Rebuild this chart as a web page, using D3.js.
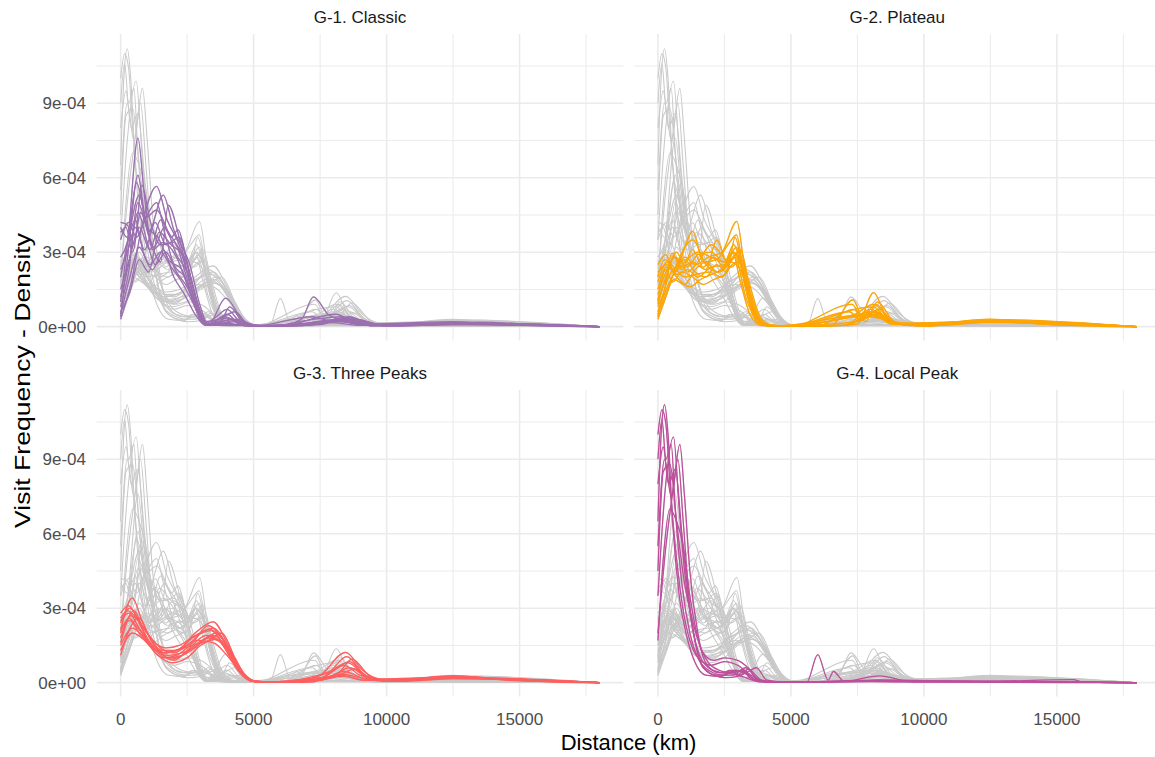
<!DOCTYPE html>
<html>
<head>
<meta charset="utf-8">
<script src="https://cdn.jsdelivr.net/npm/d3@7"></script>
<style>
  html, body { margin: 0; padding: 0; background: #ffffff; }
  svg { display: block; font-family: "Liberation Sans", Arial, sans-serif; }
</style>
</head>
<body>
<svg id="chart" width="1155" height="757"></svg>
<script>
// ---- data: density curves, x in km, y in units of 1e-04 ----
const panelTitles = ["G-1. Classic", "G-2. Plateau", "G-3. Three Peaks", "G-4. Local Peak"];
const groupColors = ["#9b6fb0", "#ffa500", "#ff5f5f", "#bd4f9b"];

const xTicks = [0, 5000, 10000, 15000];
const xTickLabels = ["0", "5000", "10000", "15000"];
const xMinorTicks = [2500, 7500, 12500, 17500];
const yTicks = [0, 3, 6, 9];
const yTickLabels = ["0e+00", "3e-04", "6e-04", "9e-04"];
const yMinorTicks = [1.5, 4.5, 7.5, 10.5];

const g1Classic = [
  [[0,1.0],[300,3.8],[650,7.6],[900,5.2],[1200,3.1],[1600,3.4],[2100,2.8],[2600,1.4],[3000,0.3],[3300,0.05],[4000,0.35],[4700,0.05],[6000,0.02],[7500,0.08],[8400,0.3],[9500,0.05],[12500,0.12],[15000,0.05],[18000,0]],
  [[0,0.4],[300,3.2],[650,6.1],[950,4.4],[1350,4.7],[1800,3.8],[2300,2.9],[2750,1.2],[3150,0.1],[3600,0.4],[4000,0.7],[4600,0.1],[5800,0.02],[6800,0.3],[7250,1.2],[7800,0.5],[8500,0.2],[9500,0.05],[13000,0.15],[18000,0]],
  [[0,4.2],[250,4.1],[500,3.3],[800,5.7],[1100,4.3],[1500,3.3],[2000,3.4],[2450,2.1],[2900,0.5],[3250,0.05],[4200,0.3],[5000,0.02],[7000,0.05],[8500,0.35],[10000,0.05],[12800,0.1],[18000,0]],
  [[0,0.3],[400,1.8],[850,4.3],[1350,5.65],[1750,4.3],[2200,3.3],[2650,1.6],[3050,0.2],[3500,0.05],[4300,0.25],[5200,0.02],[7800,0.2],[8600,0.4],[9500,0.05],[12000,0.15],[14500,0.1],[18000,0]],
  [[0,2.0],[300,3.6],[700,5.3],[1050,3.8],[1600,5.3],[2000,3.9],[2600,2.5],[3000,0.8],[3300,0.08],[3950,1.15],[4600,0.25],[5300,0.02],[7500,0.15],[8400,0.3],[9500,0.03],[13000,0.12],[18000,0]],
  [[0,3.8],[200,4.0],[450,3.0],[750,4.6],[1100,3.5],[1500,2.6],[1790,4.9],[2200,3.6],[2600,1.8],[3000,0.4],[3300,0.05],[4000,0.5],[4500,0.1],[6000,0.02],[8100,0.5],[8900,0.1],[12500,0.15],[18000,0]],
  [[0,1.5],[350,2.8],[700,4.0],[1100,3.1],[1500,4.3],[1900,3.6],[2160,3.9],[2500,2.6],[2900,0.9],[3250,0.1],[3800,0.2],[4400,0.3],[5000,0.05],[7000,0.1],[8700,0.25],[10000,0.03],[13500,0.18],[16000,0.05],[18000,0]],
  [[0,0.8],[300,2.2],[650,5.0],[1000,4.0],[1400,3.6],[1800,2.7],[2300,2.3],[2700,1.1],[3100,0.15],[3700,0.1],[4100,0.8],[4600,0.2],[5500,0.02],[7300,0.3],[8300,0.4],[9200,0.05],[12000,0.1],[18000,0]],
  [[0,2.8],[250,3.4],[600,5.8],[900,4.5],[1250,3.2],[1650,4.0],[2100,2.9],[2600,2.0],[3000,0.6],[3300,0.05],[4500,0.05],[6000,0.02],[8000,0.25],[9000,0.1],[12500,0.2],[14000,0.1],[18000,0]],
  [[0,0.6],[350,1.4],[700,2.7],[1050,2.2],[1450,3.8],[1900,3.3],[2400,2.8],[2800,1.3],[3150,0.2],[3700,0.3],[4300,0.6],[4800,0.1],[6000,0.02],[8300,0.3],[9300,0.05],[12000,0.12],[18000,0]],
  [[0,3.5],[300,4.2],[600,3.6],[950,4.4],[1350,5.0],[1650,3.8],[2000,2.5],[2400,2.0],[2800,0.9],[3150,0.08],[3800,0.15],[5000,0.02],[7200,0.4],[8000,0.2],[8800,0.3],[10000,0.03],[13000,0.1],[18000,0]],
  [[0,1.2],[300,2.5],[650,4.6],[1000,3.4],[1300,2.5],[1700,3.0],[2100,2.2],[2500,1.6],[2900,0.7],[3200,0.05],[3900,0.4],[4600,0.05],[6500,0.02],[8200,0.2],[9500,0.05],[12500,0.12],[18000,0]],
  [[0,2.3],[250,3.0],[550,4.0],[900,3.1],[1300,4.2],[1700,3.3],[2200,3.6],[2600,2.1],[3000,0.5],[3300,0.05],[4000,0.1],[5000,0.02],[7400,0.15],[8500,0.35],[9400,0.05],[12000,0.08],[18000,0]],
  [[0,0.5],[350,2.0],[700,3.2],[1100,2.5],[1500,3.0],[1900,2.4],[2300,1.8],[2700,1.0],[3100,0.2],[3600,0.05],[4300,0.2],[5000,0.03],[8000,0.15],[9000,0.05],[13000,0.15],[18000,0]],
  [[0,4.0],[250,3.6],[550,4.3],[850,3.0],[1200,2.3],[1600,3.1],[2000,2.0],[2400,1.3],[2800,0.5],[3200,0.05],[4000,0.1],[5000,0.02],[8400,0.2],[9500,0.03],[14000,0.1],[18000,0]]
];

const g2Plateau = [
  [[0,1.0],[300,2.4],[600,2.3],[1000,2.8],[1400,2.5],[1900,2.8],[2400,3.0],[2967,4.24],[3300,2.0],[3700,0.5],[4100,0.05],[5000,0.02],[6500,0.03],[7330,1.08],[7700,0.4],[8100,0.6],[8700,0.15],[10000,0.05],[12500,0.25],[14500,0.1],[18000,0]],
  [[0,0.4],[400,2.0],[800,2.6],[1314,3.84],[1700,2.6],[2200,2.7],[2700,3.4],[2950,3.7],[3300,1.6],[3750,0.3],[4200,0.03],[6000,0.02],[7500,0.1],[8110,1.37],[8600,0.4],[9400,0.05],[12500,0.2],[15000,0.08],[18000,0]],
  [[0,2.5],[300,2.9],[600,2.2],[1000,2.6],[1500,3.0],[2000,2.8],[2500,2.6],[2850,3.3],[3200,2.1],[3600,0.6],[4000,0.08],[5000,0.02],[7200,0.6],[7600,0.3],[8200,0.9],[8800,0.2],[10000,0.03],[12800,0.22],[18000,0]],
  [[0,0.8],[250,1.5],[526,2.96],[900,2.4],[1300,2.6],[1800,2.3],[2215,3.5],[2600,2.6],[2900,2.8],[3300,1.2],[3800,0.15],[4300,0.02],[7000,0.05],[8000,0.7],[8700,0.25],[9500,0.05],[12500,0.18],[18000,0]],
  [[0,1.8],[350,2.6],[700,2.1],[1100,2.3],[1500,2.0],[2000,2.4],[2500,2.5],[2800,3.0],[3200,2.4],[3600,0.8],[4050,0.1],[4800,0.02],[7400,0.5],[8100,0.9],[8900,0.15],[10200,0.04],[12000,0.2],[14000,0.15],[18000,0]],
  [[0,0.3],[300,1.2],[700,2.5],[1314,3.5],[1800,2.5],[2300,2.2],[2800,2.7],[3100,3.1],[3400,1.9],[3900,0.3],[4400,0.02],[7000,0.05],[8200,0.6],[9000,0.1],[13000,0.25],[18000,0]],
  [[0,1.3],[300,2.2],[650,2.8],[1100,2.4],[1500,2.9],[2000,3.0],[2500,2.6],[2800,3.0],[3100,1.8],[3500,0.4],[3900,0.05],[5000,0.02],[7300,0.9],[7700,0.3],[8300,0.7],[9000,0.1],[12500,0.22],[18000,0]],
  [[0,2.0],[250,2.7],[600,2.4],[1000,2.0],[1400,2.1],[1900,2.2],[2400,2.0],[2800,2.5],[3150,2.7],[3500,1.3],[3900,0.2],[4400,0.02],[8000,0.5],[8600,0.3],[9500,0.05],[12000,0.18],[18000,0]],
  [[0,0.6],[350,1.6],[700,2.3],[1000,2.7],[1400,2.2],[1800,2.0],[2200,2.5],[2600,2.2],[2900,3.6],[3250,1.9],[3700,0.4],[4100,0.04],[6000,0.02],[7350,0.7],[7800,0.2],[8250,1.0],[8900,0.2],[10000,0.03],[13000,0.2],[18000,0]],
  [[0,1.5],[300,2.3],[550,1.8],[900,2.2],[1300,2.0],[1700,1.7],[2100,1.9],[2500,2.1],[2900,2.9],[3250,2.0],[3650,0.5],[4100,0.05],[5000,0.02],[8100,0.8],[8700,0.2],[9600,0.04],[12500,0.3],[14500,0.1],[18000,0]],
  [[0,0.9],[300,2.0],[700,3.0],[1100,2.2],[1500,2.6],[2000,3.3],[2400,2.9],[2750,2.4],[3050,2.6],[3400,1.1],[3800,0.1],[4500,0.02],[7500,0.2],[8200,0.5],[8900,0.1],[12000,0.2],[18000,0]],
  [[0,2.2],[300,2.5],[700,2.0],[1200,1.6],[1600,1.9],[2000,2.1],[2400,2.3],[2750,2.6],[3100,2.3],[3500,0.9],[3900,0.15],[4400,0.02],[7000,0.05],[8000,0.4],[8800,0.2],[10000,0.03],[12800,0.28],[18000,0]],
  [[0,0.5],[300,1.3],[600,1.9],[1000,1.7],[1400,2.3],[1800,2.6],[2200,2.2],[2600,2.6],[2950,3.2],[3300,1.5],[3750,0.2],[4200,0.02],[7300,0.4],[8000,0.6],[8800,0.1],[13000,0.2],[18000,0]],
  [[0,1.1],[300,1.9],[600,2.8],[900,2.3],[1300,3.1],[1700,2.4],[2100,2.8],[2500,2.4],[2850,3.0],[3200,2.2],[3600,0.7],[4000,0.08],[5000,0.02],[8050,0.45],[8800,0.15],[12500,0.2],[18000,0]]
];

const g3ThreePeaks = [
  [[0,2.1],[440,3.42],[800,2.5],[1200,1.6],[1700,1.2],[2200,1.35],[2800,2.0],[3480,2.45],[4000,1.6],[4500,0.5],[5000,0.08],[5500,0.02],[6500,0.03],[7500,0.3],[8455,1.22],[9100,0.5],[9800,0.1],[11000,0.15],[12500,0.28],[14000,0.15],[16000,0.05],[18000,0]],
  [[0,2.8],[300,3.1],[700,2.4],[1100,1.5],[1600,1.0],[2100,1.1],[2700,1.6],[3300,2.3],[3800,1.8],[4400,0.6],[4950,0.05],[6000,0.02],[7800,0.4],[8500,1.05],[9200,0.3],[10000,0.1],[12500,0.25],[14500,0.12],[18000,0]],
  [[0,1.1],[400,2.3],[700,2.6],[1100,1.8],[1600,1.1],[2000,0.9],[2600,1.4],[3200,1.9],[3700,1.7],[4300,0.7],[4900,0.1],[5600,0.02],[8000,0.5],[8600,0.85],[9300,0.2],[10200,0.08],[12400,0.2],[18000,0]],
  [[0,2.4],[350,3.0],[750,2.4],[1200,1.7],[1700,1.4],[2200,1.5],[2800,1.9],[3500,2.2],[4000,1.5],[4600,0.3],[5100,0.03],[6000,0.02],[7600,0.2],[8400,0.7],[9000,0.3],[10000,0.08],[12600,0.22],[15000,0.08],[18000,0]],
  [[0,1.6],[500,2.9],[900,2.0],[1400,1.2],[1900,0.95],[2500,1.2],[3100,1.7],[3600,2.0],[4100,1.3],[4700,0.3],[5200,0.03],[7000,0.02],[8200,0.4],[8700,0.95],[9400,0.25],[10400,0.06],[12800,0.18],[18000,0]],
  [[0,2.0],[300,2.6],[650,2.2],[1100,1.6],[1600,1.3],[2100,1.3],[2700,1.8],[3400,2.1],[3900,1.5],[4500,0.4],[5000,0.05],[6500,0.02],[8000,0.3],[8600,0.6],[9300,0.2],[10000,0.08],[12200,0.2],[18000,0]],
  [[0,1.3],[450,2.0],[900,1.7],[1400,1.1],[1900,0.8],[2500,1.0],[3000,1.5],[3600,1.75],[4100,1.1],[4700,0.25],[5200,0.02],[7500,0.1],[8400,0.45],[9200,0.15],[10500,0.05],[12500,0.15],[18000,0]],
  [[0,2.6],[250,2.9],[600,2.6],[1000,2.0],[1500,1.4],[2000,1.2],[2600,1.6],[3300,2.15],[3800,1.8],[4400,0.6],[5000,0.05],[6000,0.02],[7700,0.15],[8300,0.35],[9000,0.2],[10000,0.05],[12000,0.22],[14000,0.15],[18000,0]],
  [[0,1.8],[400,2.7],[800,2.3],[1300,1.5],[1800,1.0],[2300,1.1],[2900,1.6],[3500,1.9],[4000,1.4],[4600,0.35],[5100,0.03],[7200,0.03],[8550,0.8],[9300,0.2],[10400,0.07],[12600,0.26],[15000,0.08],[18000,0]],
  [[0,2.2],[350,2.5],[700,2.0],[1200,1.4],[1700,1.2],[2300,1.4],[2900,1.7],[3500,1.6],[4000,1.1],[4600,0.3],[5100,0.03],[7500,0.1],[8300,0.3],[9100,0.1],[12400,0.18],[18000,0]],
  [[0,1.5],[450,2.2],[800,1.9],[1300,1.3],[1800,1.1],[2300,1.2],[2800,1.4],[3300,1.8],[3800,1.6],[4400,0.5],[4950,0.05],[6500,0.02],[8000,0.2],[8800,0.55],[9500,0.15],[12000,0.2],[18000,0]],
  [[0,2.5],[300,2.8],[700,2.2],[1150,1.5],[1600,1.2],[2100,1.3],[2700,1.5],[3300,1.7],[3800,2.0],[4300,1.0],[4800,0.15],[5300,0.02],[8400,0.25],[9200,0.1],[12500,0.22],[18000,0]]
];

const g4LocalPeak = [
  [[0,6.5],[130,10.2],[250,11.2],[380,10.0],[550,6.5],[800,3.5],[1100,1.8],[1400,0.8],[1800,0.3],[2400,0.25],[2700,0.5],[3000,0.3],[3200,0.45],[3500,0.15],[4000,0.03],[5500,0.02],[7000,0.05],[9000,0.03],[12000,0.05],[15000,0.02],[18000,0]],
  [[0,9.0],[150,10.6],[300,9.0],[500,9.6],[650,7.0],[900,4.0],[1200,2.0],[1500,1.0],[1900,0.5],[2500,0.3],[2800,0.45],[3100,0.3],[3400,0.55],[3700,0.15],[4200,0.02],[6000,0.03],[8500,0.05],[12000,0.04],[18000,0]],
  [[0,3.5],[250,7.5],[586,9.9],[800,7.0],[1000,4.5],[1300,2.2],[1700,0.6],[2200,0.3],[2800,0.3],[3300,0.6],[3700,0.2],[4200,0.02],[5600,0.02],[6008,1.13],[6400,0.1],[6600,0.45],[7000,0.05],[8300,0.1],[10000,0.03],[18000,0]],
  [[0,2.0],[300,5.5],[600,8.0],[822,9.6],[1000,7.5],[1200,4.5],[1500,2.0],[1800,0.8],[2300,0.4],[2900,0.5],[3400,0.3],[3800,0.05],[5000,0.02],[8300,0.1],[12000,0.05],[15600,0.12],[16000,0.02],[18000,0]],
  [[0,4.5],[200,8.5],[450,8.8],[700,6.5],[1000,4.0],[1300,2.5],[1700,1.2],[2100,0.9],[2500,1.0],[3000,0.9],[3500,0.5],[3900,0.1],[4500,0.02],[7000,0.05],[8330,0.27],[9500,0.05],[12000,0.05],[18000,0]],
  [[0,8.0],[200,9.5],[400,8.0],[650,8.6],[900,6.0],[1200,3.0],[1500,1.2],[1800,0.5],[2500,0.2],[3000,0.25],[3400,0.45],[3700,0.6],[4100,0.1],[4800,0.02],[8000,0.05],[12000,0.04],[18000,0]],
  [[0,1.7],[200,5.0],[450,7.0],[700,6.5],[950,5.5],[1200,3.5],[1500,1.8],[1900,0.8],[2300,0.5],[2700,0.4],[3200,0.5],[3600,0.15],[4200,0.02],[6500,0.05],[8500,0.1],[12500,0.05],[18000,0]],
  [[0,5.5],[250,9.0],[500,7.5],[750,9.0],[950,6.5],[1200,3.0],[1500,1.3],[1900,0.6],[2400,0.4],[2800,0.35],[3300,0.2],[3800,0.03],[5000,0.02],[7500,0.05],[9000,0.05],[13000,0.04],[18000,0]],
  [[0,10.0],[150,11.0],[300,10.4],[450,8.0],[700,5.0],[1000,2.6],[1300,1.4],[1600,0.9],[2000,0.7],[2500,0.85],[3000,0.7],[3500,0.3],[4000,0.05],[6000,0.03],[8000,0.05],[12000,0.04],[18000,0]]
];

const groups = [g1Classic, g2Plateau, g3ThreePeaks, g4LocalPeak];

// ---- layout ----
const svg = d3.select("#chart");
const panelW = 526.6, panelH = 306.6;
const colLeft = [96.7, 634.0];
const rowTop = [34, 390];
const font = '"Liberation Sans", Arial, sans-serif';

const x = d3.scaleLinear().domain([-900, 18900]).range([0, panelW]);
const y = d3.scaleLinear().domain([-0.5615, 11.7915]).range([panelH, 0]);

const line = d3.line()
  .x(d => x(d[0]))
  .y(d => y(d[1]))
  .curve(d3.curveMonotoneX);

const allCurves = groups.flat();

groups.forEach((curves, i) => {
  const col = i % 2, row = Math.floor(i / 2);
  const g = svg.append("g")
    .attr("transform", `translate(${colLeft[col]},${rowTop[row]})`);

  // grid
  const grid = g.append("g");
  grid.selectAll("line.vmin").data(xMinorTicks).join("line")
    .attr("x1", d => x(d)).attr("x2", d => x(d))
    .attr("y1", 0).attr("y2", panelH)
    .attr("stroke", "#ececec").attr("stroke-width", 1.1);
  grid.selectAll("line.hmin").data(yMinorTicks).join("line")
    .attr("x1", 0).attr("x2", panelW)
    .attr("y1", d => y(d)).attr("y2", d => y(d))
    .attr("stroke", "#ececec").attr("stroke-width", 1.1);
  grid.selectAll("line.vmaj").data(xTicks).join("line")
    .attr("x1", d => x(d)).attr("x2", d => x(d))
    .attr("y1", 0).attr("y2", panelH)
    .attr("stroke", "#ebebeb").attr("stroke-width", 1.6);
  grid.selectAll("line.hmaj").data(yTicks).join("line")
    .attr("x1", 0).attr("x2", panelW)
    .attr("y1", d => y(d)).attr("y2", d => y(d))
    .attr("stroke", "#ebebeb").attr("stroke-width", 1.6);

  // all curves in grey as background
  g.append("g").selectAll("path").data(allCurves).join("path")
    .attr("d", line)
    .attr("fill", "none")
    .attr("stroke", "#c9c9c9")
    .attr("stroke-width", 1.05);

  // this group's curves on top
  g.append("g").selectAll("path").data(curves).join("path")
    .attr("d", line)
    .attr("fill", "none")
    .attr("stroke", groupColors[i])
    .attr("stroke-width", 1.3);

  // strip title
  svg.append("text")
    .attr("x", colLeft[col] + panelW / 2)
    .attr("y", rowTop[row] - 10.7)
    .attr("text-anchor", "middle")
    .attr("font-family", font)
    .attr("font-size", 17)
    .attr("fill", "#1a1a1a")
    .text(panelTitles[i]);

  // y tick labels on the left column
  if (col === 0) {
    g.append("g").selectAll("text").data(yTicks).join("text")
      .attr("x", 86 - colLeft[0])
      .attr("y", d => y(d) + 6.2)
      .attr("text-anchor", "end")
      .attr("font-family", font)
      .attr("font-size", 17)
      .attr("fill", "#4d4d4d")
      .text((d, k) => yTickLabels[k]);
  }
  // x tick labels on the bottom row
  if (row === 1) {
    g.append("g").selectAll("text").data(xTicks).join("text")
      .attr("x", d => x(d))
      .attr("y", 725 - rowTop[1])
      .attr("text-anchor", "middle")
      .attr("font-family", font)
      .attr("font-size", 17)
      .attr("fill", "#4d4d4d")
      .text((d, k) => xTickLabels[k]);
  }
});

// axis titles
svg.append("text")
  .attr("x", 628.5).attr("y", 750)
  .attr("text-anchor", "middle")
  .attr("font-family", font)
  .attr("font-size", 22)
  .attr("fill", "#000")
  .text("Distance (km)");

svg.append("text")
  .attr("transform", "translate(29.5,380.5) rotate(-90)")
  .attr("text-anchor", "middle")
  .attr("font-family", font)
  .attr("font-size", 22)
  .attr("fill", "#000")
  .attr("textLength", 295)
  .attr("lengthAdjust", "spacingAndGlyphs")
  .text("Visit Frequency - Density");
</script>
</body>
</html>
